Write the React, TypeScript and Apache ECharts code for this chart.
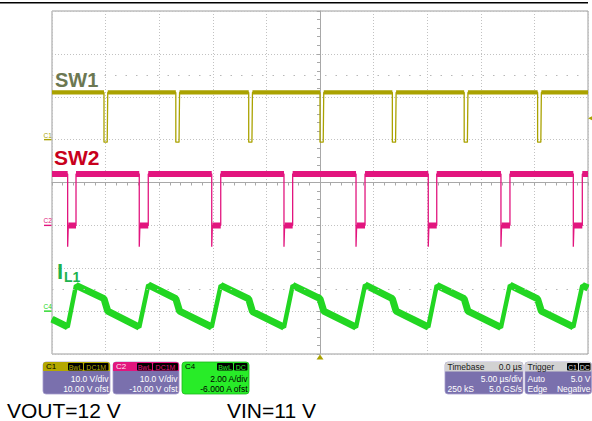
import React, { useEffect, useRef } from "react";
import * as echarts from "echarts";

// ---------- data ----------
// time axis in µs: 5 µs/div, 10 divisions, trigger at centre
const timeMin = -25;
const timeMax = 25;
const timeStep = 5;

// C1 = SW1, 10 V/div, ground 1 div above centre
const c1Range = [-50, 30];
const sw1PulseStart = [-20.15, -13.45, -6.65, 0.0, 6.75, 13.45, 20.3];
const sw1PulseEnd = [-19.8, -13.1, -6.3, 0.35, 7.1, 13.8, 20.65];
const sw1High = 11.0;
const sw1Low = -0.6;

// C2 = SW2, 10 V/div, ground 1 div below centre
const c2Range = [-30, 50];
const sw2Fall = [-23.54, -16.86, -10.1, -3.36, 3.36, 10.1, 16.88, 23.63];
const sw2Rise = [-22.76, -16.02, -9.26, -2.55, 4.2, 10.89, 17.72, 24.47];
const sw2High = 12.0;
const sw2Low = 0.0;
const sw2Spike = -5.0;

// C4 = IL1, 2 A/div, ground 3 div below centre
const c4Range = [-2, 14];
const ilTime = [
  -25, -23.54, -22.76, -20.15, -19.8, -16.86, -16.02, -13.45, -13.1, -10.1, -9.26,
  -6.65, -6.3, -3.36, -2.55, 0.0, 0.35, 3.36, 4.2, 6.75, 7.1, 10.1, 10.89, 13.45,
  13.8, 16.88, 17.72, 20.3, 20.65, 23.63, 24.47, 25,
];
const ilAmp = [
  -0.37, -0.74, 1.2, 0.58, 0.0, -0.75, 1.22, 0.58, 0.0, -0.74, 1.2,
  0.57, -0.02, -0.75, 1.2, 0.58, 0.0, -0.75, 1.22, 0.58, 0.0, -0.74, 1.2, 0.58,
  0.0, -0.76, 1.21, 0.57, 0.0, -0.74, 1.2, 1.08,
];

// bottom annotation texts
const noteVout = "VOUT=12 V";
const noteVin = "VIN=11 V";

// ---------- colours & layout ----------
const GRID = { left: 52, top: 11, width: 536, height: 343 };
const C1_COL = "#aaa200";
const C2_COL = "#e2157e";
const C4_COL = "#22d622";
const BOX_BG = "#7a70ad";
const FONT = '"Liberation Sans", Arial, sans-serif';
const GAP = "-";

function yPix(v: number, range: number[]) {
  return GRID.top + (GRID.height * (range[1] - v)) / (range[1] - range[0]);
}

function sw1Main() {
  const d: any[] = [[timeMin, sw1High]];
  sw1PulseStart.forEach((s, i) => {
    const e = sw1PulseEnd[i];
    d.push([s, sw1High], [s, sw1Low], [e - 0.05, sw1Low], [e, sw1High]);
  });
  d.push([timeMax, sw1High]);
  return d;
}
function sw1Band() {
  const d: any[] = [[timeMin, sw1High]];
  sw1PulseStart.forEach((s, i) => {
    d.push([s, sw1High], [s, GAP], [sw1PulseEnd[i], sw1High]);
  });
  d.push([timeMax, sw1High]);
  return d;
}
function sw2Main() {
  const d: any[] = [[timeMin, sw2High]];
  sw2Fall.forEach((f, i) => {
    const r = sw2Rise[i];
    d.push([f, sw2High], [f, sw2Spike], [f + 0.06, sw2Low], [r, sw2Low], [r, sw2High]);
  });
  d.push([timeMax, sw2High]);
  return d;
}
function sw2Band() {
  const d: any[] = [[timeMin, sw2High]];
  sw2Fall.forEach((f, i) => {
    const r = sw2Rise[i];
    d.push([f, sw2High], [f, GAP], [f + 0.06, sw2Low], [r, sw2Low], [r, GAP], [r, sw2High]);
  });
  d.push([timeMax, sw2High]);
  return d;
}
function ilMain() {
  return ilTime.map((t, i) => [t, ilAmp[i]]);
}
function ilBand() {
  const d: any[] = [];
  for (let i = 0; i < ilTime.length - 1; i++) {
    if (ilAmp[i + 1] < ilAmp[i]) {
      d.push([ilTime[i], ilAmp[i]], [ilTime[i + 1], ilAmp[i + 1]]);
    } else {
      d.push([ilTime[i], GAP]);
    }
  }
  return d;
}

function text(x: number, y: number, s: string, fill: string, size: number, align = "left", weight = "normal") {
  return {
    type: "text",
    x,
    y,
    silent: true,
    z: 110,
    style: { text: s, fill, fontSize: size, fontFamily: FONT, fontWeight: weight, align, verticalAlign: "middle" },
  };
}
function rect(x: number, y: number, w: number, h: number, fill: string, r: any = 0, stroke?: string) {
  return {
    type: "rect",
    silent: true,
    z: 105,
    shape: { x, y, width: w, height: h, r },
    style: stroke ? { fill, stroke, lineWidth: 0.8 } : { fill },
  };
}
function tag(x: number, w: number, s: string, fg: string) {
  return [rect(x, 363, w, 7.5, "#000000", 1), { ...text(x + w / 2, 367, s, fg, 7, "center"), z: 111 }];
}

function buildGraphics() {
  const g: any[] = [];
  // top black rule
  g.push(rect(0, 2, 588, 1.6, "#000000"));

  // channel ground markers
  const markers = [
    { label: "C1", col: C1_COL, y: yPix(0, c1Range) },
    { label: "C2", col: C2_COL, y: yPix(0, c2Range) },
    { label: "C4", col: C4_COL, y: yPix(0, c4Range) },
  ];
  markers.forEach((m) => {
    g.push(text(43.5, m.y - 4.5, m.label, m.col, 6.5));
    g.push({ type: "line", silent: true, z: 105, shape: { x1: 44, y1: m.y, x2: 51.5, y2: m.y }, style: { stroke: m.col, lineWidth: 1.4 } });
  });

  // trigger markers
  const trigY = yPix(5, c1Range);
  g.push({ type: "polygon", silent: true, z: 105, shape: { points: [[588, trigY], [592, trigY - 2], [592, trigY + 2]] }, style: { fill: C1_COL } });
  const cx = GRID.left + GRID.width / 2;
  g.push({ type: "polygon", silent: true, z: 105, shape: { points: [[cx - 3.5, 359.5], [cx + 3.5, 359.5], [cx, 354.5]] }, style: { fill: C1_COL } });

  // trace labels
  g.push(text(55, 79.5, "SW1", "#6c7852", 20, "left", "bold"));
  g.push(text(54, 157.5, "SW2", "#c8001c", 21, "left", "bold"));
  g.push(text(57, 271, "I", "#20b24e", 22, "left", "bold"));
  g.push(text(64, 277, "L1", "#20b24e", 14, "left", "bold"));

  // C1 box
  g.push(rect(43, 362, 67, 32, BOX_BG, 3, "#a49dcb"));
  g.push(rect(43, 362, 67, 9, "#b4a800", [3, 3, 0, 0]));
  g.push(text(46, 366.8, "C1", "#000000", 8));
  g.push(...tag(68, 15, "BwL", "#b4a800"), ...tag(84, 24.5, "DC1M", "#b4a800"));
  g.push(text(108.5, 378.5, "10.0 V/div", "#ffffff", 8.5, "right"));
  g.push(text(108.5, 388.5, "10.00 V ofst", "#ffffff", 8.5, "right"));

  // C2 box
  g.push(rect(113, 362, 66, 32, BOX_BG, 3, "#a49dcb"));
  g.push(rect(113, 362, 66, 9, C2_COL, [3, 3, 0, 0]));
  g.push(text(116, 366.8, "C2", "#ffe6f2", 8));
  g.push(...tag(137, 15, "BwL", C2_COL), ...tag(153, 25, "DC1M", C2_COL));
  g.push(text(177.5, 378.5, "10.0 V/div", "#ffffff", 8.5, "right"));
  g.push(text(177.5, 388.5, "-10.00 V ofst", "#ffffff", 8.5, "right"));

  // C4 box
  g.push(rect(182, 362, 67, 32, "#28ec28", 3, "#1cb81c"));
  g.push(text(185, 366.8, "C4", "#000000", 8));
  g.push(...tag(217, 16, "BwL", "#28ec28"), ...tag(234, 13.5, "DC", "#28ec28"));
  g.push(text(247.5, 378.5, "2.00 A/div", "#000000", 8.5, "right"));
  g.push(text(247.5, 388.5, "-6.000 A ofst", "#000000", 8.5, "right"));

  // Timebase box
  g.push(rect(445, 362, 78, 32, BOX_BG, 3, "#a49dcb"));
  g.push(rect(445, 362, 78, 9.5, "#d2d2d2", [3, 3, 0, 0]));
  g.push(text(447.5, 367, "Timebase", "#1a1a1a", 8.5));
  g.push(text(522, 367, "0.0 µs", "#1a1a1a", 8.5, "right"));
  g.push(text(522, 378.5, "5.00 µs/div", "#ffffff", 8.5, "right"));
  g.push(text(447.5, 388.5, "250 kS", "#ffffff", 8.5));
  g.push(text(522, 388.5, "5.0 GS/s", "#ffffff", 8.5, "right"));

  // Trigger box
  g.push(rect(525, 362, 66.5, 32, BOX_BG, 3, "#a49dcb"));
  g.push(rect(525, 362, 66.5, 9.5, "#d2d2d2", [3, 3, 0, 0]));
  g.push(text(527.5, 367, "Trigger", "#1a1a1a", 8.5));
  g.push(...tag(567, 11, "C1", "#d8d8d8"), ...tag(579, 11.5, "DC", "#d8d8d8"));
  g.push(text(527.5, 378.5, "Auto", "#ffffff", 8.5));
  g.push(text(590.5, 378.5, "5.0 V", "#ffffff", 8.5, "right"));
  g.push(text(527.5, 388.5, "Edge", "#ffffff", 8.5));
  g.push(text(590.5, 388.5, "Negative", "#ffffff", 8.5, "right"));

  // bottom notes
  g.push(text(7, 410, noteVout, "#000000", 21));
  g.push(text(227, 410, noteVin, "#000000", 21));
  return g;
}

function buildOption() {
  const axisGrey = "#a8a8a8";
  const dotted = { color: "#c2c2c2", type: [1, 2] as any, width: 1 };
  return {
    animation: false,
    backgroundColor: "#ffffff",
    grid: { ...GRID, show: true, borderColor: "#9c9c9c", borderWidth: 1, backgroundColor: "transparent" },
    xAxis: {
      type: "value",
      min: timeMin,
      max: timeMax,
      interval: timeStep,
      axisLabel: { show: false },
      axisLine: { show: true, onZero: true, onZeroAxisIndex: 0, lineStyle: { color: axisGrey, width: 1 } },
      axisTick: { show: true, inside: false, length: 3, lineStyle: { color: axisGrey } },
      minorTick: { show: true, splitNumber: 5, length: 3, lineStyle: { color: axisGrey } },
      splitLine: { show: true, lineStyle: dotted },
    },
    yAxis: [
      {
        type: "value",
        min: -4,
        max: 4,
        interval: 1,
        axisLabel: { show: false },
        axisLine: { show: true, onZero: true, lineStyle: { color: axisGrey, width: 1 } },
        axisTick: { show: true, inside: false, length: 3, lineStyle: { color: axisGrey } },
        minorTick: { show: true, splitNumber: 5, length: 3, lineStyle: { color: axisGrey } },
        splitLine: { show: true, lineStyle: dotted },
      },
      { type: "value", min: c1Range[0], max: c1Range[1], show: false },
      { type: "value", min: c2Range[0], max: c2Range[1], show: false },
      { type: "value", min: c4Range[0], max: c4Range[1], show: false },
    ],
    series: [
      {
        type: "line",
        yAxisIndex: 0,
        data: [],
        silent: true,
        markLine: {
          silent: true,
          symbol: "none",
          label: { show: false },
          lineStyle: { color: "#b8b8b8", type: [1.5, 9], width: 1 },
          data: [{ yAxis: 2.5 }, { yAxis: -2.5 }],
        },
      },
      { type: "line", yAxisIndex: 1, data: sw1Main(), showSymbol: false, symbol: "none", silent: true, lineStyle: { color: C1_COL, width: 1.3 } },
      { type: "line", yAxisIndex: 1, data: sw1Band(), showSymbol: false, symbol: "none", silent: true, lineStyle: { color: C1_COL, width: 4.2 } },
      { type: "line", yAxisIndex: 2, data: sw2Main(), showSymbol: false, symbol: "none", silent: true, lineStyle: { color: C2_COL, width: 1.3 } },
      { type: "line", yAxisIndex: 2, data: sw2Band(), showSymbol: false, symbol: "none", silent: true, lineStyle: { color: C2_COL, width: 6 } },
      { type: "line", yAxisIndex: 3, data: ilMain(), showSymbol: false, symbol: "none", silent: true, lineStyle: { color: C4_COL, width: 4.5 } },
      { type: "line", yAxisIndex: 3, data: ilBand(), showSymbol: false, symbol: "none", silent: true, lineStyle: { color: C4_COL, width: 7 } },
    ],
    graphic: buildGraphics(),
  };
}

export default function App() {
  const ref = useRef<HTMLDivElement>(null);
  useEffect(() => {
    const chart = echarts.init(ref.current!, null, { renderer: "svg" });
    chart.setOption(buildOption() as any);
    return () => chart.dispose();
  }, []);
  return (
    <div
      ref={ref}
      style={{ position: "absolute", left: 0, top: 0, width: 592, height: 421, background: "#ffffff" }}
    />
  );
}
